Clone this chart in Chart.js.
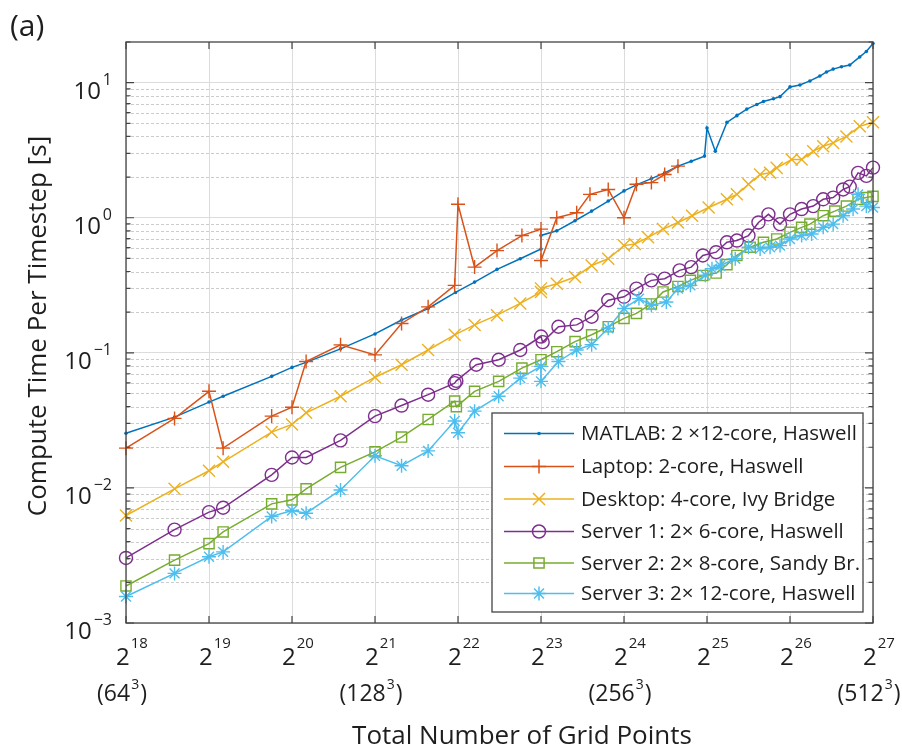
<!DOCTYPE html>
<html>
<head>
<meta charset="utf-8">
<script src="https://cdn.jsdelivr.net/npm/chart.js@4.4.0/dist/chart.umd.min.js"></script>
<style>
  html, body { margin: 0; padding: 0; background: #fff; }
  #chart { display: block; }
</style>
</head>
<body>
<canvas id="chart" width="902" height="751"></canvas>
<script>
// x = log2(total number of grid points), y = compute time per timestep [s]
const matlabX = [18, 18.585, 19, 19.17, 19.755, 20, 20.17, 20.585, 21, 21.32, 21.64, 21.97, 22.2, 22.47, 22.75, 23, 23, 23.19, 23.41, 23.61, 23.81, 24, 24.15, 24.33, 24.49, 24.65, 24.81, 24.97, 25, 25.1, 25.24, 25.36, 25.48, 25.6, 25.68, 25.8, 25.88, 26, 26.12, 26.24, 26.36, 26.44, 26.52, 26.62, 26.72, 26.84, 26.92, 27];
const matlabY = [0.0254, 0.0334, 0.0432, 0.0477, 0.067, 0.078, 0.085, 0.107, 0.138, 0.175, 0.213, 0.28, 0.334, 0.415, 0.497, 0.587, 0.74, 0.80, 0.95, 1.12, 1.33, 1.58, 1.75, 1.95, 2.15, 2.41, 2.62, 2.86, 4.61, 3.11, 5.08, 5.7, 6.37, 6.9, 7.25, 7.6, 7.88, 9.3, 9.6, 10.3, 11.2, 12.0, 12.6, 13.1, 13.5, 15.5, 17.0, 19.5];

const laptopX = [18, 18.585, 19, 19.17, 19.755, 20, 20.17, 20.585, 21, 21.32, 21.64, 21.96, 22.0, 22.2, 22.47, 22.77, 23.0, 23.0, 23.19, 23.43, 23.59, 23.81, 24.0, 24.15, 24.33, 24.49, 24.65];
const laptopY = [0.0197, 0.0327, 0.0519, 0.0197, 0.034, 0.0396, 0.0863, 0.1146, 0.0966, 0.165, 0.219, 0.316, 1.26, 0.431, 0.571, 0.738, 0.824, 0.483, 1.0, 1.09, 1.49, 1.62, 1.0, 1.77, 1.82, 2.09, 2.41];

const desktopX = [18, 18.585, 19, 19.17, 19.755, 20, 20.17, 20.585, 21, 21.32, 21.64, 21.96, 22.2, 22.47, 22.75, 23, 23, 23.19, 23.41, 23.61, 23.81, 24, 24.13, 24.29, 24.47, 24.65, 24.82, 25.02, 25.24, 25.36, 25.5, 25.64, 25.76, 25.84, 26.02, 26.14, 26.28, 26.4, 26.52, 26.68, 26.84, 27];
const desktopY = [0.00625, 0.00984, 0.0134, 0.0156, 0.0259, 0.0295, 0.036, 0.0477, 0.066, 0.0816, 0.105, 0.136, 0.161, 0.19, 0.232, 0.282, 0.30, 0.325, 0.364, 0.443, 0.497, 0.622, 0.64, 0.716, 0.824, 0.923, 1.035, 1.19, 1.37, 1.49, 1.77, 2.09, 2.15, 2.34, 2.7, 2.7, 3.11, 3.38, 3.58, 4.0, 4.75, 5.1];

const server1X = [18, 18.585, 19, 19.17, 19.755, 20, 20.17, 20.585, 21, 21.32, 21.64, 21.96, 21.98, 22.22, 22.49, 22.75, 23, 23.02, 23.21, 23.43, 23.61, 23.81, 24.0, 24.15, 24.33, 24.49, 24.67, 24.81, 24.95, 25.11, 25.24, 25.36, 25.5, 25.62, 25.74, 25.88, 26.0, 26.14, 26.28, 26.4, 26.52, 26.64, 26.72, 26.82, 26.92, 27];
const server1Y = [0.00303, 0.00491, 0.00662, 0.00713, 0.0125, 0.0168, 0.0168, 0.0225, 0.034, 0.0407, 0.049, 0.0597, 0.062, 0.0816, 0.0889, 0.105, 0.132, 0.12, 0.156, 0.161, 0.185, 0.245, 0.26, 0.299, 0.344, 0.354, 0.408, 0.431, 0.526, 0.556, 0.658, 0.678, 0.738, 0.923, 1.06, 0.897, 1.06, 1.16, 1.22, 1.37, 1.41, 1.62, 1.7, 2.15, 2.04, 2.35];

const server2X = [18, 18.585, 19, 19.17, 19.755, 20, 20.17, 20.585, 21, 21.32, 21.64, 21.96, 21.98, 22.2, 22.49, 22.77, 23, 23.19, 23.41, 23.61, 23.81, 24.0, 24.15, 24.33, 24.47, 24.65, 24.8, 24.95, 25.11, 25.24, 25.36, 25.52, 25.68, 25.84, 26.0, 26.14, 26.24, 26.4, 26.54, 26.68, 26.82, 26.92, 27];
const server2Y = [0.00188, 0.00292, 0.00387, 0.00472, 0.00762, 0.00816, 0.00984, 0.0142, 0.0185, 0.0238, 0.0321, 0.0439, 0.040, 0.0519, 0.0615, 0.077, 0.0889, 0.102, 0.121, 0.136, 0.156, 0.18, 0.196, 0.23, 0.282, 0.31, 0.344, 0.374, 0.39, 0.45, 0.526, 0.605, 0.658, 0.696, 0.78, 0.849, 0.897, 1.035, 1.12, 1.22, 1.37, 1.41, 1.44];

const server3X = [18, 18.585, 19, 19.17, 19.755, 20, 20.17, 20.585, 21, 21.32, 21.64, 21.96, 22.0, 22.2, 22.49, 22.75, 23, 23.0, 23.21, 23.43, 23.61, 23.81, 24.0, 24.18, 24.33, 24.51, 24.65, 24.8, 24.98, 25.06, 25.16, 25.34, 25.5, 25.64, 25.76, 25.88, 26.0, 26.14, 26.26, 26.4, 26.52, 26.64, 26.76, 26.82, 26.92, 27];
const server3Y = [0.00157, 0.00233, 0.00309, 0.00336, 0.00615, 0.00681, 0.0065, 0.00966, 0.0173, 0.0146, 0.0188, 0.0313, 0.0256, 0.037, 0.0477, 0.065, 0.0794, 0.0615, 0.0863, 0.105, 0.115, 0.152, 0.213, 0.252, 0.225, 0.238, 0.299, 0.316, 0.375, 0.419, 0.443, 0.497, 0.605, 0.588, 0.605, 0.622, 0.696, 0.738, 0.759, 0.849, 0.897, 1.035, 1.16, 1.49, 1.22, 1.19];

const seriesLabels = [
  "MATLAB: 2 \u00d712-core, Haswell",
  "Laptop: 2-core, Haswell",
  "Desktop: 4-core, Ivy Bridge",
  "Server 1: 2\u00d7 6-core, Haswell",
  "Server 2: 2\u00d7 8-core, Sandy Br.",
  "Server 3: 2\u00d7 12-core, Haswell"
];
const seriesColors = ["#0072BD", "#D95319", "#EDB120", "#7E2F8E", "#77AC30", "#4DBEEE"];
const seriesMarkers = ["circle", "cross", "crossRot", "circle", "rect", "star"];
const markerSizes = [1.8, 7, 8.5, 6.5, 7.2, 7];

// axis ticks
const xTickExps = [18, 19, 20, 21, 22, 23, 24, 25, 26, 27];
const xCubeExps = [18, 21, 24, 27];
const xCubeLabels = ["64", "128", "256", "512"];
const yTickValues = [0.001, 0.01, 0.1, 1, 10];
const yTickExps = ["-3", "-2", "-1", "0", "1"];
const yMin = 0.001, yMax = 20;

const FONT = '"Open Sans", "DejaVu Sans", sans-serif';
const TEXT = "#1e1e1e";
const AXIS = "#444444";

const allX = [matlabX, laptopX, desktopX, server1X, server2X, server3X];
const allY = [matlabY, laptopY, desktopY, server1Y, server2Y, server3Y];

const datasets = seriesLabels.map((label, i) => ({
  label: label,
  data: allX[i].map((x, j) => ({ x: x, y: allY[i][j] })),
  showLine: true,
  borderColor: seriesColors[i],
  backgroundColor: seriesColors[i],
  borderWidth: 1.5,
  pointStyle: seriesMarkers[i],
  pointRadius: markerSizes[i],
  pointHoverRadius: markerSizes[i],
  pointBorderWidth: i === 0 ? 0 : 1.4,
  pointBorderColor: seriesColors[i],
  pointBackgroundColor: i === 0 ? seriesColors[i] : "rgba(0,0,0,0)",
  tension: 0,
  fill: false,
  clip: false,
  order: 6 - i
}));

// superscript text helper
function supText(ctx, parts, x, y) {
  let cx = x;
  parts.forEach((p) => {
    ctx.font = p.size + "px " + FONT;
    ctx.fillText(p.t, cx, y + (p.dy || 0));
    cx += ctx.measureText(p.t).width + (p.gap || 0);
  });
}
function supWidth(ctx, parts) {
  let w = 0;
  parts.forEach((p) => {
    ctx.font = p.size + "px " + FONT;
    w += ctx.measureText(p.t).width + (p.gap || 0);
  });
  return w;
}

const matlabStyle = {
  id: "matlabStyle",
  beforeDatasetsDraw(chart) {
    const { ctx, chartArea: a, scales } = chart;
    ctx.save();
    // minor y grid lines (dotted)
    ctx.strokeStyle = "#cccccc";
    ctx.lineWidth = 1;
    ctx.setLineDash([3, 2]);
    yTickValues.forEach((v) => {
      for (let m = 2; m <= 9; m++) {
        const val = v * m;
        if (val >= yMax) continue;
        const py = Math.round(scales.y.getPixelForValue(val)) + 0.5;
        ctx.beginPath();
        ctx.moveTo(a.left, py);
        ctx.lineTo(a.right, py);
        ctx.stroke();
      }
    });
    ctx.restore();
  },
  afterDatasetsDraw(chart) {
    const { ctx, chartArea: a, scales } = chart;
    ctx.save();
    // box
    ctx.strokeStyle = AXIS;
    ctx.lineWidth = 1.3;
    ctx.strokeRect(a.left, a.top, a.right - a.left, a.bottom - a.top);
    // x ticks (inward, top and bottom)
    ctx.lineWidth = 1.2;
    xTickExps.forEach((e) => {
      const px = scales.x.getPixelForValue(e);
      ctx.beginPath();
      ctx.moveTo(px, a.bottom); ctx.lineTo(px, a.bottom - 7);
      ctx.moveTo(px, a.top); ctx.lineTo(px, a.top + 7);
      ctx.stroke();
    });
    // y ticks major and minor (left and right)
    yTickValues.forEach((v) => {
      for (let m = 1; m <= 9; m++) {
        const val = v * m;
        if (val > yMax) continue;
        const py = scales.y.getPixelForValue(val);
        const len = m === 1 ? 8 : 4.5;
        ctx.beginPath();
        ctx.moveTo(a.left, py); ctx.lineTo(a.left + len, py);
        ctx.moveTo(a.right, py); ctx.lineTo(a.right - len, py);
        ctx.stroke();
      }
    });

    ctx.fillStyle = TEXT;
    ctx.textBaseline = "alphabetic";
    ctx.textAlign = "left";
    // y tick labels 10^k, right aligned
    yTickValues.forEach((v, i) => {
      const py = scales.y.getPixelForValue(v);
      const parts = [
        { t: "10", size: 24, gap: 2 },
        { t: yTickExps[i].replace("-", "\u2212"), size: 16, dy: -14 }
      ];
      const w = supWidth(ctx, parts);
      supText(ctx, parts, 112 - w, py + 16);
    });
    // x tick labels 2^k and (N^3)
    xTickExps.forEach((e) => {
      const px = scales.x.getPixelForValue(e);
      supText(ctx, [{ t: "2", size: 24, gap: 1 }, { t: String(e), size: 15, dy: -17 }], px - 10, a.bottom + 42);
    });
    xCubeExps.forEach((e, i) => {
      const px = scales.x.getPixelForValue(e);
      const parts = [
        { t: "(" + xCubeLabels[i], size: 23, gap: 1 },
        { t: "3", size: 14, dy: -12, gap: 1 },
        { t: ")", size: 23 }
      ];
      const w = supWidth(ctx, parts);
      supText(ctx, parts, px - 4 - w / 2, a.bottom + 78);
    });

    // axis titles
    ctx.font = "26px " + FONT;
    ctx.textAlign = "center";
    ctx.fillText("Total Number of Grid Points", 522, 744);
    ctx.save();
    ctx.translate(39, 326);
    ctx.rotate(-Math.PI / 2);
    ctx.textBaseline = "middle";
    ctx.fillText("Compute Time Per Timestep [s]", 0, 0);
    ctx.restore();
    // panel label
    ctx.textAlign = "left";
    ctx.font = "30px " + FONT;
    ctx.fillText("(a)", 10, 36);

    // legend
    const lx = 492, ly = 413, lw = 371, lh = 199;
    ctx.fillStyle = "#ffffff";
    ctx.fillRect(lx, ly, lw, lh);
    ctx.strokeStyle = AXIS;
    ctx.lineWidth = 1.3;
    ctx.strokeRect(lx, ly, lw, lh);
    const rowY = [433.5, 466.5, 499, 531.5, 563, 593.5];
    seriesLabels.forEach((label, i) => {
      const y = rowY[i];
      ctx.strokeStyle = seriesColors[i];
      ctx.lineWidth = 1.5;
      ctx.beginPath();
      ctx.moveTo(504, y); ctx.lineTo(574, y);
      ctx.stroke();
      ctx.fillStyle = i === 0 ? seriesColors[i] : "rgba(0,0,0,0)";
      Chart.helpers.drawPoint(ctx, {
        pointStyle: seriesMarkers[i],
        radius: markerSizes[i],
        rotation: 0,
        borderWidth: i === 0 ? 0 : 1.4
      }, 539, y);
      ctx.fillStyle = TEXT;
      ctx.font = "20.5px " + FONT;
      ctx.textBaseline = "middle";
      ctx.textAlign = "left";
      ctx.fillText(label, 581, y + 1);
    });
    ctx.restore();
  }
};

new Chart(document.getElementById("chart"), {
  type: "scatter",
  data: { datasets: datasets },
  options: {
    responsive: false,
    animation: false,
    devicePixelRatio: 1,
    layout: { padding: { left: 126, top: 42, right: 29, bottom: 128 } },
    plugins: { legend: { display: false }, tooltip: { enabled: false } },
    scales: {
      x: {
        type: "linear",
        min: 18,
        max: 27,
        afterBuildTicks: (scale) => { scale.ticks = xTickExps.map((v) => ({ value: v })); },
        ticks: { display: false },
        grid: { color: "#dcdcdc", lineWidth: 1, drawTicks: false },
        border: { display: false }
      },
      y: {
        type: "logarithmic",
        min: yMin,
        max: yMax,
        afterBuildTicks: (scale) => { scale.ticks = yTickValues.map((v) => ({ value: v })); },
        ticks: { display: false },
        grid: { color: "#dcdcdc", lineWidth: 1, drawTicks: false },
        border: { display: false }
      }
    }
  },
  plugins: [matlabStyle]
});
</script>
</body>
</html>
